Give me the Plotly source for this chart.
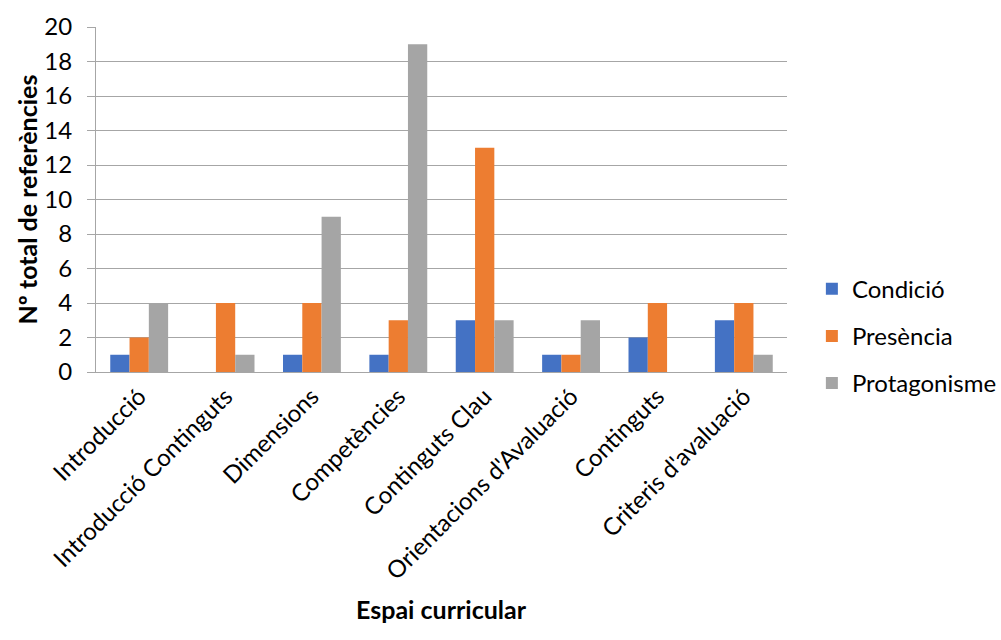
import plotly.graph_objects as go

categories = ["Introducció", "Introducció Continguts", "Dimensions", "Competències",
              "Continguts Clau", "Orientacions d'Avaluació", "Continguts", "Criteris d'avaluació"]
condicio = [1, 0, 1, 1, 3, 1, 2, 3]
presencia = [2, 4, 4, 3, 13, 1, 4, 4]
protagonisme = [4, 1, 9, 19, 3, 3, 0, 1]

series = [
    ("Condició", condicio, "#4472C4"),
    ("Presència", presencia, "#ED7D31"),
    ("Protagonisme", protagonisme, "#A5A5A5"),
]

FONT = "Lato"
GRID = "#A6A6A6"

fig = go.Figure()
for i, (name, vals, color) in enumerate(series):
    fig.add_trace(go.Bar(
        x=categories, y=vals, name=name, marker_color=color,
        marker_line_width=0, legendgroup=f"g{i}",
    ))

fig.update_layout(
    width=1001, height=640,
    barmode="group", bargap=0.33, bargroupgap=0,
    plot_bgcolor="white", paper_bgcolor="white",
    margin=dict(l=96, r=214, t=27, b=268, autoexpand=False),
    font=dict(family=FONT, color="#000000", size=24),
    legend=dict(
        x=1.036, y=0.104, xanchor="left", yanchor="middle",
        font=dict(size=24, family=FONT), tracegroupgap=13,
        itemwidth=30,
    ),
    annotations=[
        dict(text="<b>Nº total de referències</b>", xref="paper", yref="paper",
             x=-0.1, y=0.5, xanchor="center", yanchor="middle",
             textangle=-90, showarrow=False, font=dict(size=25, family=FONT)),
        dict(text="<b>Espai curricular</b>", xref="paper", yref="paper",
             x=0.5, y=-0.686, xanchor="center", yanchor="middle",
             showarrow=False, font=dict(size=25, family=FONT)),
    ],
)

fig.update_yaxes(
    range=[0, 20], dtick=2, automargin=False,
    showgrid=True, gridcolor=GRID, gridwidth=1,
    showline=True, linecolor=GRID, linewidth=1,
    ticks="outside", ticklen=8, tickcolor=GRID, ticklabelstandoff=10,
    tickfont=dict(size=24, family=FONT),
    zeroline=False,
)
fig.update_xaxes(
    automargin=False,
    showline=True, linecolor=GRID, linewidth=1,
    tickangle=-45, tickfont=dict(size=24, family=FONT),
)

fig.write_html("out.html")
